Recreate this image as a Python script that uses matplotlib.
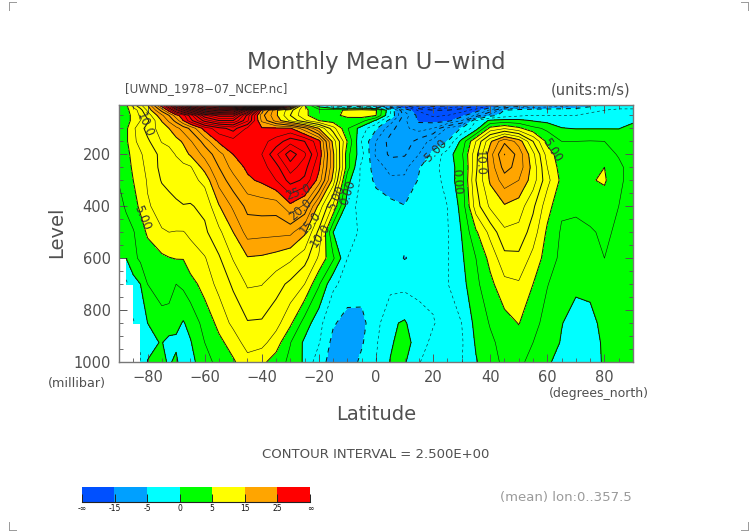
import numpy as np
import matplotlib
matplotlib.use("Agg")
import matplotlib.pyplot as plt
from matplotlib.colors import BoundaryNorm, ListedColormap
from matplotlib.lines import Line2D
from matplotlib.ticker import MultipleLocator

nan = float("nan")

lat = [-90, -87.5, -85, -82.5, -80, -75, -72.5, -70, -67.5, -65, -60, -55, -50, -45, -40,
       -35, -30, -25, -20, -15, -10, -5, 0, 5, 10, 15, 20, 25, 30, 35, 40, 45, 50, 55, 60,
       65, 70, 75, 80, 85, 90]
level = [1000, 925, 850, 700, 600, 500, 400, 300, 250, 200, 150, 100, 70, 50, 30, 10]

# zonal wind (m/s) per pressure level
u_1000 = [nan, nan, nan, -2.6, 0.05, 0.6, -0.3, 0.5, -1.5, -0.7, 1.3, 3.5, 4.7, 6.4, 5.6,
          3.8, 1.9, -0.4, -4, -6, -6.5, -4.4, -2.5, 0.1, 0.3, -2.4, -3.3, -3.2, -2.6, -0.2, 1.6,
          3, 3.2, 1.5, 0.4, -1, -2, -1.8, 0.5, 1, 1]
u_925 = [nan, nan, nan, -2.4, -0.4, 0.1, -0.8, -0.5, -1.2, -0.2, 2.5, 4.4, 6, 8.7, 8.3,
         6.2, 2.6, -0.5, -2.3, -5.8, -6.5, -5.3, -2.8, -0.3, 1, -1.2, -3.2, -3.6, -2.8, 0.3, 2,
         3.4, 4, 2.5, 1.3, -0.2, -1.5, -1.3, 0.5, 1.2, 1.5]
u_850 = [nan, nan, -2.7, -1.5, 0, 1.7, 1.5, 0.7, -0.2, 0.8, 3.4, 5.7, 8.2, 9.8, 9.7,
         8.4, 5.5, 1.4, -1.7, -4.7, -6, -5.7, -3.4, -0.4, 0.3, -1.7, -2.3, -3.7, -2.5, 0.8, 2.7,
         4, 5.1, 3.3, 1.6, 0.1, -1, -0.8, 0.8, 1.3, 1.5]
u_700 = [nan, -3, -1, 0, 2.5, 3.5, 3.5, 2.5, 3, 4, 6, 8.3, 10.4, 12.8, 12.6,
         11, 9.4, 7.5, 2.8, -2, -3.5, -4, -3.8, -3.3, -3.2, -3.1, -3.2, -2.6, -0.9, 1.9, 4.3,
         6.8, 7.2, 5, 2.6, 1.3, 0.5, 0.7, 1.6, 1.9, 2]
u_600 = [0.5, 0, 1.8, 3, 3.6, 4.5, 4.9, 5.1, 5.1, 6.5, 7.3, 9.7, 12.7, 14.8, 14.6,
         14, 13, 11, 7.1, 2.9, -2.5, -3.3, -3.5, -4, -5.1, -4.4, -3.8, -2.7, -0.4, 2.5, 5.8,
         9.2, 9.4, 6.7, 3.8, 1.9, 1.5, 1.9, 2.5, 2.2, 2]
u_500 = [1.3, 1.9, 2.3, 3.8, 5.4, 7.3, 7.5, 7.4, 7.4, 7.9, 9.5, 11.9, 15, 18.5, 18.3,
         18.2, 18.1, 15.5, 9.3, 0, -2, -2.7, -3.3, -3.8, -4.5, -4.1, -3.5, -2.7, 0.1, 4.6, 8.3,
         12, 11.7, 8.8, 4.5, 2.2, 1.8, 2.3, 2.8, 2.2, 1.5]
u_400 = [2, 2.7, 4, 5.5, 7.2, 8.5, 9.2, 9.6, 9.9, 9.8, 10.6, 14.8, 18, 20.7, 21,
         21, 24.3, 22, 14.2, 7, -1.3, -3.4, -3.6, -4.2, -4.9, -4.3, -3.5, -2.5, 0.8, 8.8, 13,
         14.7, 13.8, 10.5, 6, 2.9, 3, 3.2, 3.8, 2.5, 1.5]
u_300 = [2.6, 3.3, 5, 6, 7.8, 10.2, 10.6, 11, 11.3, 11.6, 13.2, 18.5, 21.5, 24.5, 25.5,
         27.5, 31, 29.5, 24, 14, 0.8, -3, -5.6, -6.9, -7, -4.8, -3.8, -1.4, 1.4, 10, 15.4,
         18.8, 17.5, 13.7, 8.3, 4.3, 3.8, 4.8, 5.3, 3, 1.5]
u_250 = [3, 3.7, 5.5, 6.7, 8.2, 10.7, 11, 11.4, 11.8, 12.2, 16, 20, 23.5, 25.5, 26.5,
         29, 33.8, 31, 25.5, 15.5, 3.5, -3.3, -6, -8.5, -8.2, -5.2, -3.3, -1.4, 1.3, 9.5, 16,
         21, 19, 14, 7.5, 3.8, 3.6, 4.4, 5, 3, 1.5]
u_200 = [3.5, 4, 6, 7.2, 8.5, 10.7, 11.5, 12.7, 14, 15.3, 18.3, 21.5, 25, 26, 27.5,
         32, 36.5, 33, 27, 15.5, 3.3, -1.7, -8, -10.5, -10.3, -7.5, -4.3, -1.3, 2, 9.2, 16.5,
         22.6, 19, 13.2, 6.4, 3.4, 3, 3.2, 3.4, 2.3, 1.3]
u_150 = [3.5, 4.5, 7, 8.2, 9.5, 12.7, 13.2, 14.2, 15.3, 17.2, 21, 25.5, 26.5, 27, 26.7,
         28.5, 31.5, 30, 26, 14, 4.8, -2.7, -7.5, -11, -11.5, -9, -6.5, -5, 0.8, 7.5, 14.5,
         19.5, 16.5, 10, 4.2, 2.5, 2.5, 2.6, 2.5, 2, 1.3]
u_100 = [3.5, 4.5, 7, 9, 11, 13.7, 15, 16.7, 18.5, 20.5, 26, 29, 31, 27, 25.3,
         25.4, 25.3, 21, 15, 8.5, 2.7, -1.2, -4.7, -9, -12, -13.5, -12.5, -7, -4.8, -1.2, 5.8,
         7.3, 5.6, 3.2, 2, 0.1, -0.1, -0.1, -0.1, -0.1, 1]
u_70 = [3, 4.3, 5.5, 7.5, 9.5, 15.2, 18, 21, 25, 29, 36, 40, 40, 33, 22,
        16.5, 12, 8, 5, 3.8, 4.2, 3.5, -0.4, -6, -12, -15.5, -16, -16, -12.5, -2.5, 0.5,
        1, 0.8, -0.2, -0.8, -1, -1, -1, -1, -0.8, -0.5]
u_50 = [2.5, 4.3, 5.5, 8, 11, 17, 20, 24, 26.5, 31, 42, 46, 46, 34, 21,
        15.5, 10, 5.5, 3.5, 4.5, 5.5, 6, 5.1, -2.5, -11, -16, -18, -17.5, -16, -12, -6,
        -4, -3, -2.5, -2.5, -2.5, -2.5, -2, -1.5, -1.5, -1]
u_30 = [3, 4.5, 5.8, 9, 13, 21, 26, 33, 40, 46, 58, 62, 60, 45, 24,
        15.5, 11, 5.5, 3.5, 4, 5.5, 6.5, 5.2, -2, -13, -18, -20, -20, -18.5, -16.5, -12,
        -5, -4, -3.5, -3.5, -3.5, -3.5, -3, -2.5, -2, -2]
u_10 = [3.5, 4.5, 9, 12, 15, 27, 35, 45, 55, 65, 75, 80, 82, 78, 65,
        50, 30, 5, -2, -7, -9, -10, -12, -15.5, -20, -25, -27, -26, -24, -21, -18,
        -16, -12, -11, -10, -9, -8, -6, -4.5, -4, -4]

fill_bounds = [-100, -15, -5, 0, 5, 15, 25, 100]
fill_colors = ["#0050ff", "#00a0ff", "#00ffff", "#00ff00", "#ffff00", "#ffa500", "#ff0000"]
bar_labels = ["-\u221e", "-15", "-5", "0", "5", "15", "25", "\u221e"]

# label, lat, level, rotation
contour_labels = [
    ("10.0", -80.9, 87, -68), ("5.00", -82, 445, -68),
    ("25.0", -27.3, 345, 20), ("20.0", -26.6, 415, 42), ("15.0", -23.1, 465, 50),
    ("10.0", -19.6, 511, 55), ("5.00", -13.7, 368, 65), ("0.00", -9.8, 349, 72),
    ("-5.00", 20.6, 191, 45), ("0.00", 28.3, 307, -86), ("10.0", 36.4, 233, -88),
    ("5.00", 61.6, 183, -58),
]

W, H = 752, 532
INK = "#505050"


def px_text(fig, x, y, s, **kw):
    kw.setdefault("color", INK)
    kw.setdefault("va", "center")
    fig.text(x / W, 1 - y / H, s, **kw)


fig = plt.figure(figsize=(W / 100, H / 100), dpi=100)
ax = fig.add_axes([119 / W, 1 - 362 / H, 514 / W, 257 / H])

z = np.ma.masked_invalid(np.array([
    u_1000, u_925, u_850, u_700, u_600, u_500, u_400, u_300,
    u_250, u_200, u_150, u_100, u_70, u_50, u_30, u_10,
]))
cmap = ListedColormap(fill_colors)
norm = BoundaryNorm(fill_bounds, cmap.N)
ax.contourf(lat, level, z, levels=fill_bounds, cmap=cmap, norm=norm, corner_mask=False)

every = np.arange(-25, 85.1, 2.5)
thick = [v for v in every if v % 5 == 0]
thin = [v for v in every if v % 5 != 0]
for vals, lw in ((thick, 0.7), (thin, 0.4)):
    styles = [(0, (5, 5)) if v < 0 else "solid" for v in vals]
    ax.contour(lat, level, z, levels=vals, colors="#101010", linewidths=lw, linestyles=styles,
               corner_mask=False)

for s, x, y, rot in contour_labels:
    ax.text(x, y, s, rotation=rot, rotation_mode="anchor", ha="center", va="center",
            fontsize=8.5, color="#333333")

ax.set_xlim(-90, 90)
ax.set_ylim(1000, 10)
ax.xaxis.set_minor_locator(MultipleLocator(5))
ax.yaxis.set_minor_locator(MultipleLocator(50))
ax.set_xticks(range(-80, 81, 20))
ax.set_xticklabels([f"\u2212{-v}" if v < 0 else str(v) for v in range(-80, 81, 20)])
ax.set_yticks(range(200, 1001, 200))
ax.tick_params(which="major", direction="in", top=True, right=True, length=6, width=0.7,
               color="#555555", labelsize=10.5, labelcolor=INK, pad=6)
ax.tick_params(which="minor", direction="in", top=True, right=True, length=3, width=0.6,
               color="#555555")
for sp in ax.spines.values():
    sp.set_color("#777777")
    sp.set_linewidth(1.0)

px_text(fig, 376, 62, "Monthly Mean U\u2212wind", ha="center", fontsize=16.5)
px_text(fig, 125, 89, "[UWND_1978\u221207_NCEP.nc]", fontsize=8.6)
px_text(fig, 630, 90, "(units:m/s)", ha="right", fontsize=10.5)
px_text(fig, 57, 232, "Level", ha="center", rotation=90, fontsize=14)
px_text(fig, 376, 415, "Latitude", ha="center", fontsize=14)
px_text(fig, 48, 384, "(millibar)", fontsize=9.2)
px_text(fig, 649, 394, "(degrees_north)", ha="right", fontsize=9)
px_text(fig, 376, 454, "CONTOUR INTERVAL = 2.500E+00", ha="center", fontsize=9.5)
px_text(fig, 632, 497, "(mean) lon:0..357.5", ha="right", fontsize=9.5, color="#9a9a9a")

# colour bar, equal width boxes
cax = fig.add_axes([82 / W, 1 - 502 / H, 228 / W, 15 / H])
cax.imshow([list(range(len(fill_colors)))], cmap=cmap, aspect="auto",
           extent=(0, len(fill_colors), 0, 1))
cax.set_yticks([])
cax.set_xticks(range(len(bar_labels)))
cax.set_xticklabels(bar_labels)
cax.tick_params(axis="x", direction="in", length=5.5, width=0.7, labelsize=5.5, pad=1.5,
                labelcolor="#111111", color="#222222")
for name, sp in cax.spines.items():
    sp.set_visible(name == "bottom")
cax.spines["bottom"].set_color("#222222")
cax.spines["bottom"].set_linewidth(0.8)

# crop marks in the page corners
corners = [
    ((9, 16), (2, 2)), ((9, 9), (2, 10)), ((741, 748), (2, 2)), ((748, 748), (2, 10)),
    ((9, 16), (530, 530)), ((9, 9), (522, 530)), ((741, 748), (530, 530)), ((748, 748), (522, 530)),
]
for xs, ys in corners:
    fig.add_artist(Line2D([x / W for x in xs], [1 - y / H for y in ys], color="#999999", lw=0.7))

fig.savefig("out.png", dpi=100)
